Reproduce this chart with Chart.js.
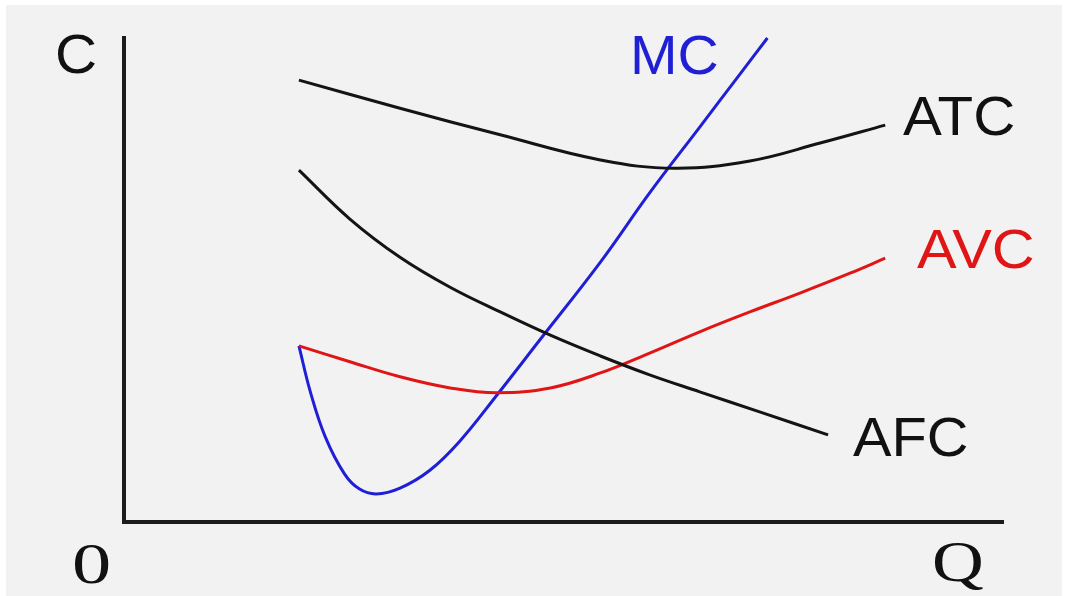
<!DOCTYPE html>
<html>
<head>
<meta charset="utf-8">
<script src="https://cdn.jsdelivr.net/npm/chart.js@4/dist/chart.umd.min.js"></script>
<style>
  html, body { margin: 0; padding: 0; background: #fff; }
  #wrap { position: relative; width: 1074px; height: 596px; }
  #bg { position: absolute; left: 6px; top: 5px; width: 1056px; height: 591px; background: #f2f2f2; }
  canvas { position: absolute; left: 0; top: 0; }
</style>
</head>
<body>
<div id="wrap">
  <div id="bg"></div>
  <canvas id="graf" width="1074" height="596"></canvas>
</div>
<script>
// Křivky nákladů (Q na ose x, C na ose y, obě 0–100)
const atcQ = [19.9, 31.4, 42.8, 54.2, 62.7, 71.2, 79.2, 86.6];
const atcC = [91.3, 85.5, 80.0, 74.8, 73.1, 74.6, 78.3, 82.0];

const afcQ = [19.9, 25.7, 31.4, 37.1, 42.8, 48.5, 54.2, 59.8, 65.5, 72.4, 80.1];
const afcC = [72.7, 62.6, 54.7, 48.5, 43.4, 38.6, 34.3, 30.4, 26.9, 22.7, 18.0];

const avcQ = [19.9, 25.7, 31.4, 37.1, 42.4, 48.5, 54.2, 59.8, 65.5, 71.2, 76.9, 82.6, 86.6];
const avcC = [36.4, 33.1, 30.0, 27.7, 26.7, 27.7, 30.8, 34.9, 39.3, 43.4, 47.3, 51.4, 54.5];

const mcQ = [19.9, 21.2, 22.9, 25.1, 26.8, 28.7, 31.4, 34.8, 38.2, 42.5, 47.3, 54.2, 59.8, 65.5, 70.1, 73.2];
const mcC = [36.4, 26.9, 17.6, 9.9, 6.8, 5.8, 7.0, 10.7, 16.7, 26.4, 37.6, 53.7, 68.0, 81.6, 92.6, 100];

const nazvy = ['MC', 'ATC', 'AVC', 'AFC'];
const osy = ['C', '0', 'Q'];

function body(qs, cs) {
  return qs.map((q, i) => ({ x: q, y: cs[i] }));
}

function krivka(label, data, barva) {
  return {
    label: label,
    data: data,
    borderColor: barva,
    borderWidth: 3,
    pointRadius: 0,
    showLine: true,
    fill: false,
    tension: 0.4,
    clip: false
  };
}

// Popisky křivek a os (text, x, y, barva, font, horizontální roztažení)
const popisky = {
  id: 'popisky',
  afterDraw(chart) {
    const ctx = chart.ctx;
    const sans = '55px "Liberation Sans", Arial, sans-serif';
    const serif = '56px "Liberation Serif", "Times New Roman", serif';
    const texty = [
      [osy[0], 55, 73, '#111', sans, 1.06],
      [nazvy[0], 630, 74, '#1f1fd6', '56px "Liberation Sans", Arial, sans-serif', 1.02],
      [nazvy[1], 903, 135, '#111', sans, 1.06],
      [nazvy[2], 917, 268, '#e01515', sans, 1.08],
      [nazvy[3], 853, 456, '#111', sans, 1.05],
      [osy[1], 72, 583, '#111', serif, 1.4],
      [osy[2], 932, 581, '#111', serif, 1.28]
    ];
    texty.forEach(t => {
      ctx.save();
      ctx.textBaseline = 'alphabetic';
      ctx.textAlign = 'left';
      ctx.font = t[4];
      ctx.fillStyle = t[3];
      ctx.translate(t[1], t[2]);
      ctx.scale(t[5], 1);
      ctx.fillText(t[0], 0, 0);
      ctx.restore();
    });
  }
};

new Chart(document.getElementById('graf').getContext('2d'), {
  type: 'scatter',
  data: {
    datasets: [
      krivka('ATC', body(atcQ, atcC), '#141414'),
      krivka('AFC', body(afcQ, afcC), '#141414'),
      krivka('AVC', body(avcQ, avcC), '#e01515'),
      krivka('MC', body(mcQ, mcC), '#1f1fd6')
    ]
  },
  options: {
    responsive: false,
    animation: false,
    devicePixelRatio: 1,
    layout: { padding: { left: 124, right: 71, top: 38, bottom: 74 } },
    plugins: { legend: { display: false }, tooltip: { enabled: false } },
    scales: {
      x: {
        type: 'linear', min: 0, max: 100,
        grid: { display: false, drawTicks: false },
        ticks: { display: false },
        border: { display: true, color: '#1c1c1c', width: 4 }
      },
      y: {
        type: 'linear', min: 0, max: 100,
        grid: { display: false, drawTicks: false },
        ticks: { display: false },
        border: { display: true, color: '#1c1c1c', width: 4 }
      }
    }
  },
  plugins: [popisky]
});
</script>
</body>
</html>
